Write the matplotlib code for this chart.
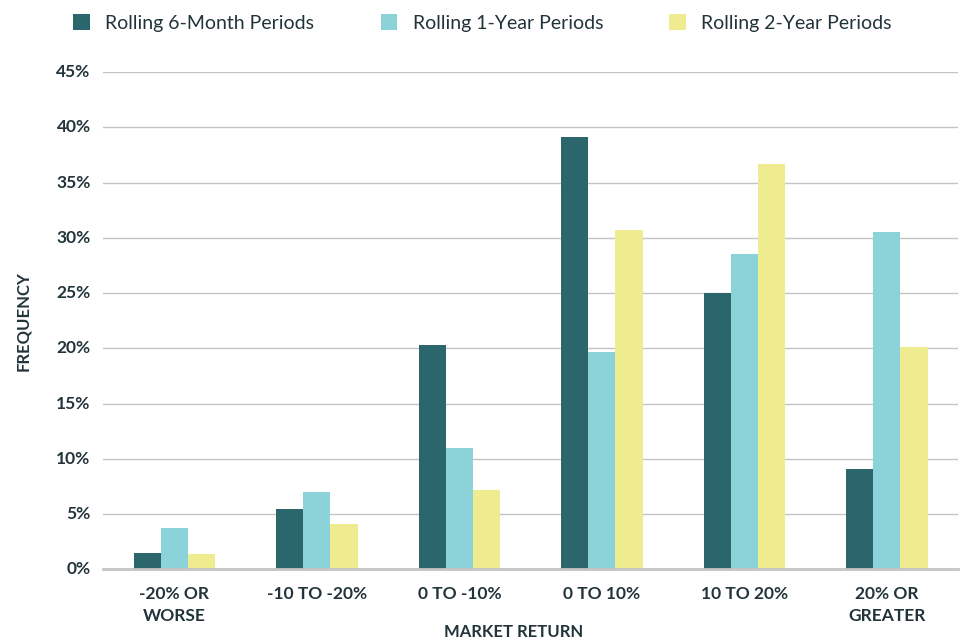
import numpy as np
import matplotlib
matplotlib.use('Agg')
import matplotlib.pyplot as plt

# categories and values (%)
categories = ['-20% OR\nWORSE', '-10 TO -20%', '0 TO -10%', '0 TO 10%', '10 TO 20%', '20% OR\nGREATER']
six_month = [1.5, 5.5, 20.3, 39.1, 25.0, 9.1]
one_year = [3.7, 7.0, 11.0, 19.7, 28.5, 30.5]
two_year = [1.4, 4.1, 7.2, 30.7, 36.7, 20.1]
series_names = ['Rolling 6-Month Periods', 'Rolling 1-Year Periods', 'Rolling 2-Year Periods']

colors = ['#2a666c', '#8bd3d8', '#eeec8f']
txt = '#22343a'

plt.rcParams['font.family'] = ['Lato', 'DejaVu Sans']

fig = plt.figure(figsize=(9.64, 6.44), dpi=100)
ax = fig.add_axes([0.107, 0.116, 0.887, 0.772])

x = np.arange(len(categories))
w = 0.19
for i, (vals, c) in enumerate(zip([six_month, one_year, two_year], colors)):
    ax.bar(x + (i - 1) * w, vals, width=w, color=c, label=series_names[i], zorder=3)

ax.set_xlim(-0.5, 5.5)
ax.set_ylim(0, 45)
ax.set_yticks(range(0, 46, 5))
ax.set_yticklabels(['{}%'.format(v) for v in range(0, 46, 5)])
ax.set_xticks(x)
ax.set_xticklabels(categories, linespacing=1.5)

ax.grid(axis='y', color='#c4c4c4', linewidth=1, zorder=0)
for s in ['top', 'right', 'left']:
    ax.spines[s].set_visible(False)
ax.spines['bottom'].set_color('#c4c4c4')
ax.spines['bottom'].set_linewidth(2)
ax.spines['bottom'].set_zorder(4)
ax.tick_params(axis='both', length=0, labelsize=12.5, labelcolor=txt)
ax.tick_params(axis='y', pad=9)
ax.tick_params(axis='x', pad=12)
for lab in ax.get_xticklabels() + ax.get_yticklabels():
    lab.set_fontweight('bold')
    lab.set_va('top')
for lab in ax.get_yticklabels():
    lab.set_va('center')

ax.set_ylabel('FREQUENCY', fontsize=12, fontweight='bold', color=txt, labelpad=18)
ax.set_xlabel('MARKET RETURN', fontsize=12, fontweight='bold', color=txt)
ax.xaxis.set_label_coords(0.48, -0.11)

leg = fig.legend(loc='upper left', bbox_to_anchor=(0.058, 1.005), ncol=3, frameon=False,
                 fontsize=14, handlelength=0.85, handleheight=0.85, columnspacing=3.4,
                 handletextpad=0.8)
for t in leg.get_texts():
    t.set_color(txt)

fig.savefig('out.png', dpi=100)
